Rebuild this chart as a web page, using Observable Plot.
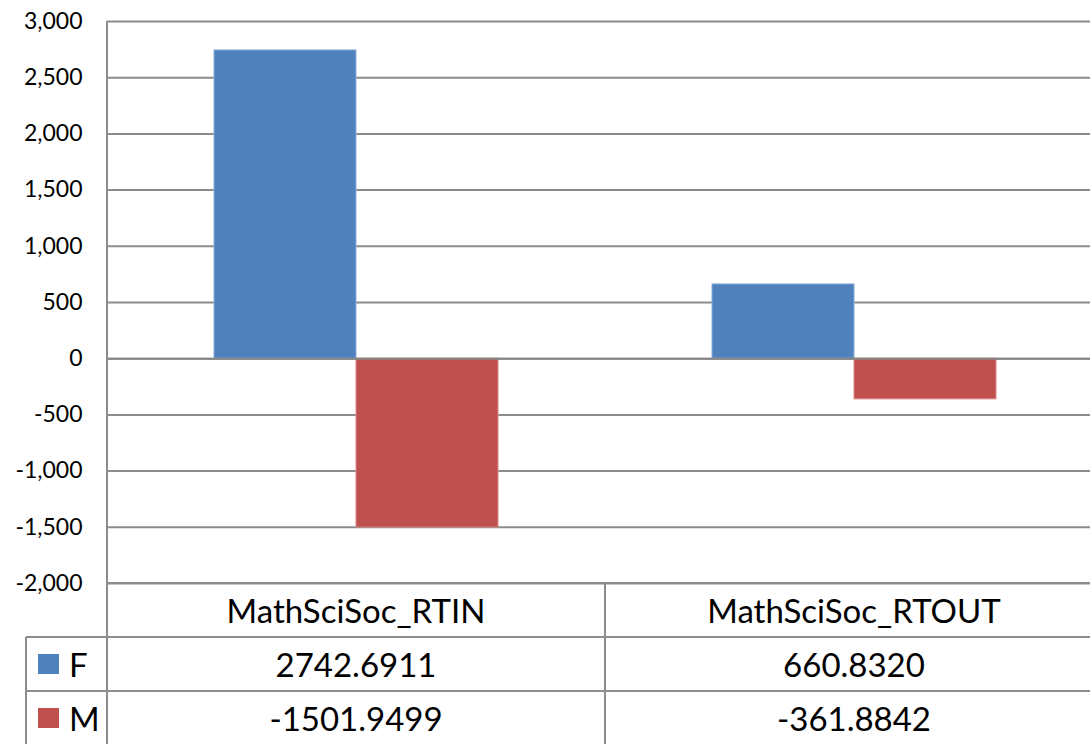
<!DOCTYPE html>
<html><head><meta charset="utf-8">
<script src="https://cdn.jsdelivr.net/npm/d3@7"></script>
<script src="https://cdn.jsdelivr.net/npm/@observablehq/plot@0.6"></script>
<style>
html,body{margin:0;padding:0;background:#fff;overflow:hidden;}
#wrap{position:relative;width:1103px;height:744px;font-family:Lato,sans-serif;}
#wrap svg{display:block;}
.cell{position:absolute;box-sizing:border-box;display:flex;align-items:center;justify-content:center;font-size:33px;color:#000;white-space:nowrap;}
.key{position:absolute;box-sizing:border-box;display:flex;align-items:center;font-size:33px;color:#000;}
.key span.sw{display:inline-block;width:21px;height:20px;margin-right:10px;}
.hl{position:absolute;height:2px;background:#8c8c8c;}
.vl{position:absolute;width:2px;background:#8c8c8c;}
</style></head><body><div id="wrap"></div>
<script>
const categories = ["MathSciSoc_RTIN", "MathSciSoc_RTOUT"];
const seriesNames = ["F", "M"];
const valuesF = [2742.6911, 660.8320];
const valuesM = [-1501.9499, -361.8842];
const yTicks = [-2000, -1500, -1000, -500, 0, 500, 1000, 1500, 2000, 2500, 3000];
const seriesColors = ["#4F81BD", "#C0504D"];
const seriesEdges = ["#8DAEDA", "#D88A88"];

const seriesValues = {F: valuesF, M: valuesM};
const rows = [];
categories.forEach((c, i) => seriesNames.forEach(s => rows.push({cat: c, s, v: seriesValues[s][i]})));

const hyphen = f => d => f(d).replace("\u2212", "-");
const tickFmt = hyphen(d3.format(","));
const valFmt = hyphen(d3.format(".4f"));

const W = 1103, H = 584;
const chart = Plot.plot({
  width: W, height: H,
  marginLeft: 107, marginRight: 0, marginTop: 21, marginBottom: 1,
  style: {fontFamily: "Lato, sans-serif", fontSize: "23px", color: "#000", background: "#fff", overflow: "visible"},
  facet: {data: rows, x: "cat"},
  fx: {domain: categories, padding: 0, axis: null, label: null},
  x: {domain: seriesNames, paddingInner: 0, paddingOuter: 0.75, axis: null, label: null},
  y: {domain: [-2000, 3000], ticks: yTicks, tickFormat: tickFmt, tickSize: 0, tickPadding: 25, label: null},
  marks: [
    Plot.ruleY(yTicks, {stroke: "#8c8c8c", strokeWidth: 2}),
    ...seriesNames.map((s, k) => Plot.barY(rows, {filter: d => d.s === s, x: "s", y: "v", fill: seriesColors[k], stroke: seriesEdges[k], strokeWidth: 1})),
    Plot.ruleY([0], {stroke: "#868686", strokeWidth: 2})
  ]
});

const wrap = d3.select("#wrap");
wrap.node().appendChild(chart);

const fxs = chart.scale("fx");
const ys = chart.scale("y");
const bw = fxs.bandwidth;
const colX = categories.map(c => fxs.apply(c));
const topY = ys.apply(d3.max(yTicks));
const botY = ys.apply(d3.min(yTicks));
const rowH = 54;
const keyLeft = 26;
const bottom = 744;

function hl(x1, x2, y) { wrap.append("div").attr("class", "hl").style("left", x1 + "px").style("width", (x2 - x1) + "px").style("top", (y - 1) + "px"); }
function vl(x, y1, y2) { wrap.append("div").attr("class", "vl").style("left", (x - 1) + "px").style("top", y1 + "px").style("height", (y2 - y1) + "px"); }

// axis line + table borders
vl(colX[0], topY, bottom);
hl(colX[0], W, botY);
hl(keyLeft, W, botY + rowH);
hl(keyLeft, W, botY + 2 * rowH);
vl(keyLeft, botY + rowH, bottom);
colX.slice(1).forEach(x => vl(x, botY, bottom));

// header row
categories.forEach((c, i) => {
  wrap.append("div").attr("class", "cell")
    .style("left", colX[i] + "px").style("width", bw + "px")
    .style("top", botY + "px").style("height", rowH + "px").text(c);
});
// series rows
seriesNames.forEach((s, k) => {
  const top = botY + rowH * (k + 1);
  const key = wrap.append("div").attr("class", "key")
    .style("left", (keyLeft + 12) + "px").style("top", top + "px").style("height", rowH + "px");
  key.append("span").attr("class", "sw").style("background", seriesColors[k]);
  key.append("span").text(s);
  categories.forEach((c, i) => {
    wrap.append("div").attr("class", "cell")
      .style("left", colX[i] + "px").style("width", bw + "px")
      .style("top", top + "px").style("height", rowH + "px").text(valFmt(seriesValues[s][i]));
  });
});
</script></body></html>
